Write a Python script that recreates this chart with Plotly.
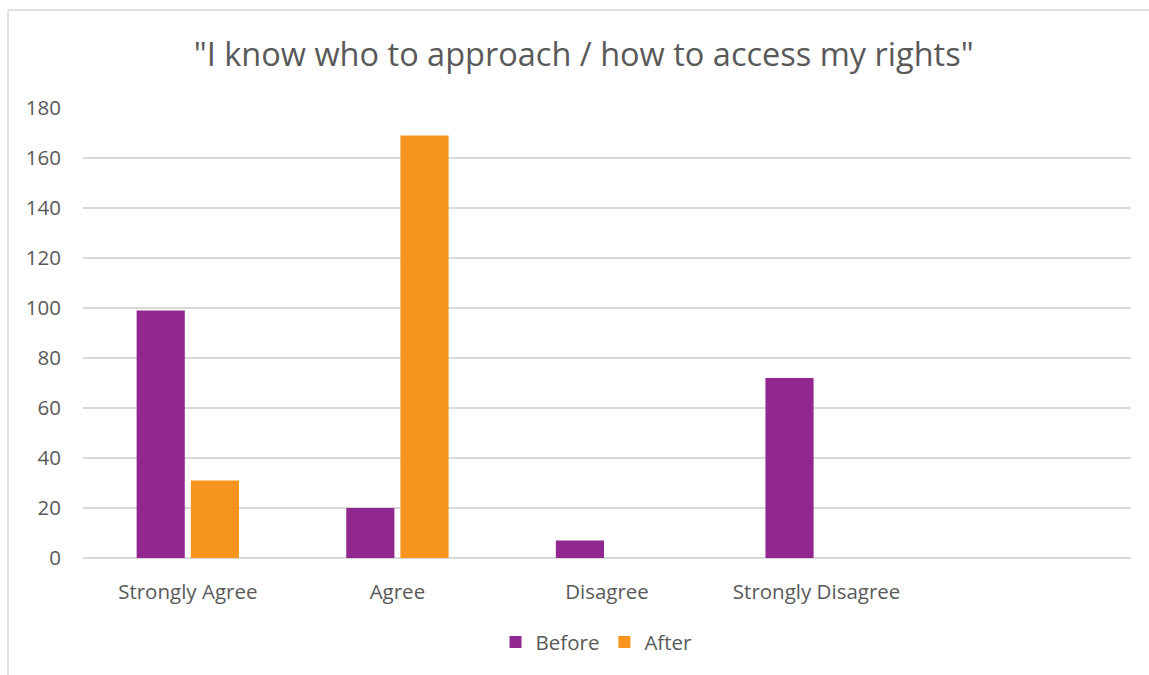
import plotly.graph_objects as go

# Survey responses before and after the session
categories = ["Strongly Agree", "Agree", "Disagree", "Strongly Disagree"]
before = [99, 20, 7, 72]
after = [31, 169, 0, 0]
series_names = ["Before", "After"]
y_ticks = list(range(0, 181, 20))

PURPLE = "#92278F"
ORANGE = "#F7941D"
TEXT = "#595959"
GRID = "#D9D9D9"
FONT = "Open Sans"

fig = go.Figure()
fig.add_trace(go.Bar(x=categories, y=before, name=series_names[0],
                     marker=dict(color=PURPLE, line=dict(width=0))))
fig.add_trace(go.Bar(x=categories, y=after, name=series_names[1],
                     marker=dict(color=ORANGE, line=dict(width=0))))

# Light frame around the chart area (left and top edges)
fig.add_shape(type="line", xref="paper", yref="paper",
              x0=-0.0716, x1=-0.0716, y0=1.2178, y1=-0.6,
              line=dict(color=GRID, width=1.5))
fig.add_shape(type="line", xref="paper", yref="paper",
              x0=-0.0716, x1=1.2, y0=1.2178, y1=1.2178,
              line=dict(color=GRID, width=1.5))

fig.update_layout(
    width=1149, height=675,
    margin=dict(l=83, r=18, t=108, b=117),
    paper_bgcolor="white", plot_bgcolor="white",
    font=dict(family=FONT, color=TEXT, size=20),
    title=dict(text='"I know who to approach / how to access my rights"',
               x=0.508, xanchor="center", xref="container",
               y=1 - 55 / 675, yanchor="middle",
               font=dict(family=FONT, size=32.5, color=TEXT)),
    barmode="group", bargap=0.483, bargroupgap=0.111,
    showlegend=True,
    legend=dict(orientation="h", x=0.49, xanchor="center",
                y=-0.187, yanchor="middle",
                font=dict(family=FONT, size=20.5, color=TEXT),
                itemsizing="constant", itemwidth=30, traceorder="normal",
                tracegroupgap=0),
    xaxis=dict(range=[-0.5, 4.5], showgrid=False, zeroline=False,
               showline=False, ticks="", ticklabelstandoff=19,
               tickfont=dict(family=FONT, size=20.5, color=TEXT)),
    yaxis=dict(range=[0, 180], tickvals=y_ticks, showgrid=True,
               gridcolor=GRID, gridwidth=1.5, zeroline=True,
               zerolinecolor=GRID, zerolinewidth=1.5, showline=False,
               ticks="", ticklabelstandoff=21,
               tickfont=dict(family=FONT, size=20.5, color=TEXT)),
)

fig.write_html("out.html")
